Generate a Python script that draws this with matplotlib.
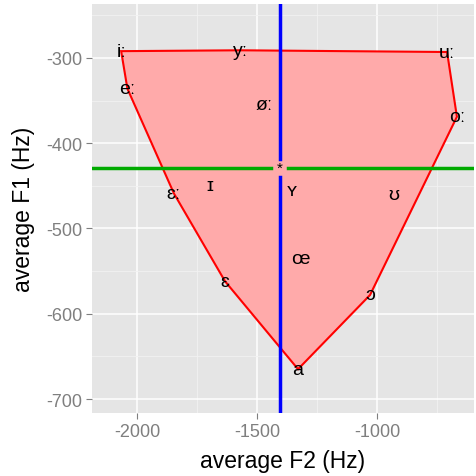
import matplotlib
matplotlib.use("Agg")
import matplotlib.pyplot as plt
from matplotlib.ticker import MultipleLocator

plt.rcParams['font.family'] = ['Liberation Sans', 'DejaVu Sans']
plt.rcParams['axes.unicode_minus'] = False

vowels = ['iː', 'eː', 'yː', 'øː', 'uː', 'oː', 'ɪ', 'ʏ', 'ʊ', 'ɛː', 'œ', 'ɛ', 'ɔ', 'a']
f2 = [-2066, -2040, -1570, -1470, -708, -667, -1696, -1354, -929, -1846, -1321, -1633, -1029, -1329]
f1 = [-292, -336, -291, -355, -293, -369, -450, -456, -460, -459, -535, -562, -578, -665]
hull = ['iː', 'yː', 'uː', 'oː', 'ɔ', 'a', 'ɛ', 'ɛː', 'eː']
mean_f2 = -1406
mean_f1 = -429

fig = plt.figure(figsize=(4.77, 4.77), dpi=100)
ax = fig.add_axes([92/477, 63/477, (474-92)/477, (414-5)/477])
ax.set_facecolor('#E5E5E5')
ax.set_xlim(-2187.5, -595.8)
ax.set_ylim(-716.4, -236.7)

ax.xaxis.set_major_locator(MultipleLocator(500))
ax.xaxis.set_minor_locator(MultipleLocator(250))
ax.yaxis.set_major_locator(MultipleLocator(100))
ax.yaxis.set_minor_locator(MultipleLocator(50))
ax.grid(which='major', color='white', linewidth=1.1)
ax.grid(which='minor', color='#F2F2F2', linewidth=0.6)
ax.set_axisbelow(True)
for s in ax.spines.values():
    s.set_visible(False)
ax.tick_params(which='major', length=4, color='#7F7F7F', labelcolor='#7F7F7F', labelsize=13, width=0.8, pad=3)
ax.tick_params(which='minor', length=0)

idx = {v: i for i, v in enumerate(vowels)}
hx = [f2[idx[v]] for v in hull]
hy = [f1[idx[v]] for v in hull]
ax.fill(hx, hy, facecolor='#FFAAAA', edgecolor='red', linewidth=1.5, zorder=2)

xmin, xmax = ax.get_xlim()
ymin, ymax = ax.get_ylim()
gx, gy = 35, 10.5
ax.plot([mean_f2, mean_f2], [ymax, mean_f1 + gy], color='blue', linewidth=2.5, zorder=3)
ax.plot([mean_f2, mean_f2], [mean_f1 - gy, ymin], color='blue', linewidth=2.5, zorder=3)
ax.plot([xmin, mean_f2 - gx], [mean_f1, mean_f1], color='#00AA00', linewidth=2.5, zorder=3)
ax.plot([mean_f2 + gx, xmax], [mean_f1, mean_f1], color='#00AA00', linewidth=2.5, zorder=3)
ax.text(mean_f2, mean_f1, '*', ha='center', va='center', fontsize=11, color='black', zorder=4)

for v, x, y in zip(vowels, f2, f1):
    ax.text(x, y, v, ha='center', va='center', fontsize=14, color='black', zorder=4,
            family=['Liberation Sans', 'DejaVu Sans'])

ax.set_xlabel('average F2 (Hz)', fontsize=16.5, labelpad=7)
ax.set_ylabel('average F1 (Hz)', fontsize=16.5, labelpad=8)

fig.savefig('out.png', dpi=100)
